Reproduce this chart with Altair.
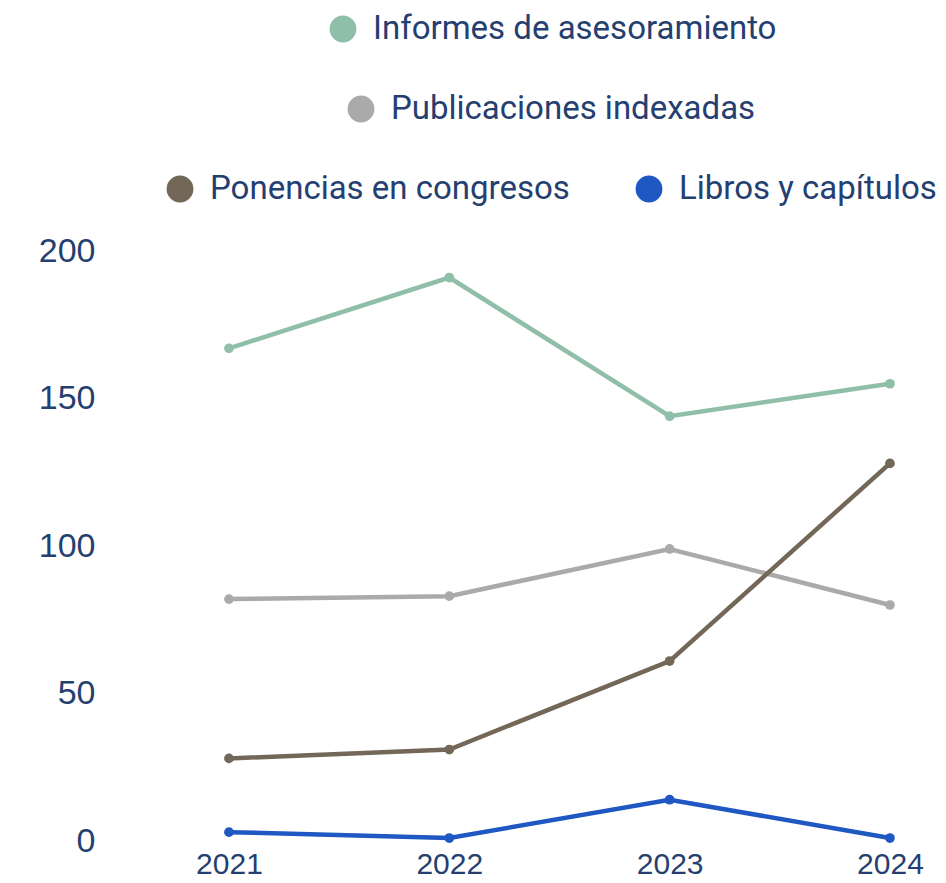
import altair as alt
import pandas as pd

# ---- data ----
years = [2021, 2022, 2023, 2024]
series_names = [
    "Informes de asesoramiento",
    "Publicaciones indexadas",
    "Ponencias en congresos",
    "Libros y capítulos",
]
informes = [167, 191, 144, 155]
publicaciones = [82, 83, 99, 80]
ponencias = [28, 31, 61, 128]
libros = [3, 1, 14, 1]
colors = ["#8fbfa9", "#aaaaaa", "#736858", "#1f57c3"]

rows = []
for name, vals in zip(series_names, [informes, publicaciones, ponencias, libros]):
    for y, v in zip(years, vals):
        rows.append({"year": y, "value": v, "serie": name})
df = pd.DataFrame(rows)

TEXT = "#253f70"
W = 828

color_scale = alt.Scale(domain=series_names, range=colors)

base = alt.Chart(df).encode(
    x=alt.X(
        "year:Q",
        scale=alt.Scale(domain=[2020.46, 2024.218], nice=False, zero=False),
        axis=alt.Axis(
            values=years, format="d", title=None, grid=False, domain=False,
            ticks=False, labelFontSize=30, labelColor=TEXT, labelPadding=8,
            labelFont="Liberation Sans",
        ),
    ),
    y=alt.Y(
        "value:Q",
        scale=alt.Scale(domain=[0, 200], nice=False),
        axis=alt.Axis(
            values=[0, 50, 100, 150, 200], title=None, grid=False, domain=False,
            ticks=False, labelFontSize=34, labelColor=TEXT, labelPadding=15,
            minExtent=102, maxExtent=102, labelFont="Liberation Sans",
        ),
    ),
    color=alt.Color("serie:N", scale=color_scale, legend=None),
    detail="serie:N",
)
lines = base.mark_line(strokeWidth=4.5)
pts = base.mark_circle(size=95, opacity=1)
main = alt.layer(lines, pts).properties(width=W, height=590)

# ---- custom legend layout (row index and horizontal position in the legend band) ----
leg = pd.DataFrame({
    "serie": series_names,
    "row": [0, 1, 2, 2],
    "cx": [233, 251, 70, 539],
})
leg_base = alt.Chart(leg).encode(
    y=alt.Y("row:Q", scale=alt.Scale(domain=[-0.2625, 2.2375], reverse=True, nice=False, zero=False), axis=None),
)
leg_pts = leg_base.mark_circle(size=720, opacity=1).encode(
    x=alt.X("cx:Q", scale=alt.Scale(domain=[0, W], nice=False, zero=False), axis=None),
    color=alt.Color("serie:N", scale=color_scale, legend=None),
)
leg_txt = leg_base.mark_text(align="left", baseline="middle", dx=30, fontSize=33,
                             font="Roboto", color=TEXT).encode(
    x=alt.X("cx:Q", scale=alt.Scale(domain=[0, W], nice=False, zero=False), axis=None),
    text="serie:N",
)
legend = alt.layer(leg_pts, leg_txt).properties(width=W, height=200)

chart = alt.vconcat(legend, main, spacing=26).properties(
    padding={"left": 0, "top": 0, "right": 0, "bottom": 0}
).configure(background="white").configure_view(stroke=None, strokeWidth=0)

chart.save("out.html", embed_options={"renderer": "svg", "actions": False})
